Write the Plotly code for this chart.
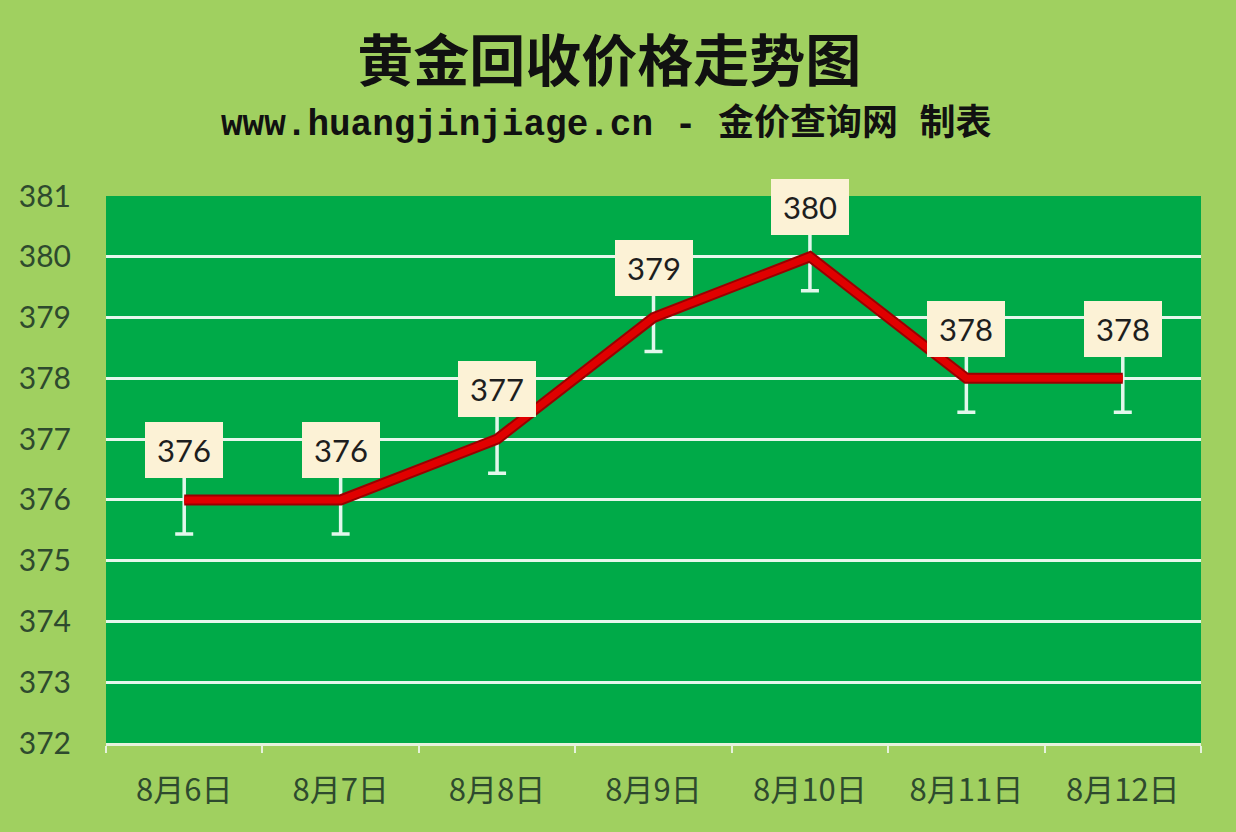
import plotly.graph_objects as go

categories = ["8月6日", "8月7日", "8月8日", "8月9日", "8月10日", "8月11日", "8月12日"]
prices = [376, 376, 377, 379, 380, 378, 378]
y_ticks = [372, 373, 374, 375, 376, 377, 378, 379, 380, 381]
err_size = 0.56
label_offset = 0.82

title_text = "黄金回收价格走势图"
subtitle_text = "www.huangjinjiage.cn - 金价查询网 制表"

fig = go.Figure()

# Error bars (white whiskers)
fig.add_trace(go.Scatter(
    x=categories, y=prices, mode="markers",
    marker=dict(size=1, color="rgba(0,0,0,0)"),
    error_y=dict(type="constant", value=err_size, color="#E2F7EC", thickness=3.5, width=9),
    hoverinfo="skip", showlegend=False,
))
# Dark outline of the line
fig.add_trace(go.Scatter(
    x=categories, y=prices, mode="lines",
    line=dict(color="#9A0000", width=11),
    hoverinfo="skip", showlegend=False,
))
# Red line
fig.add_trace(go.Scatter(
    x=categories, y=prices, mode="lines",
    line=dict(color="#E00000", width=7),
    showlegend=False,
))

for c, p in zip(categories, prices):
    fig.add_annotation(
        x=c, y=p + label_offset, xref="x", yref="y",
        text=str(p), showarrow=False,
        font=dict(family="Lato, Open Sans, sans-serif", size=31, color="#1E1E1E"),
        bgcolor="#FCF2D6", width=66, height=44, borderpad=6,
        borderwidth=0,
    )

fig.update_layout(
    width=1236, height=832,
    paper_bgcolor="#A0D060",
    plot_bgcolor="#00AA48",
    margin=dict(l=106, r=35, t=196, b=89),
    title=dict(
        text=f"<b>{title_text}</b>",
        x=0.493, xanchor="center", y=0.926, yanchor="middle",
        font=dict(family="Noto Sans CJK SC", size=56, color="#111111"),
    ),
    showlegend=False,
)
fig.add_annotation(
    text=f"<b>{subtitle_text}</b>", xref="paper", yref="paper",
    x=0.4575, xanchor="center", y=1.131, yanchor="middle", showarrow=False,
    font=dict(family="Liberation Mono, Noto Sans CJK SC", size=36, color="#111111"),
)

fig.update_xaxes(
    type="category", range=[-0.5, 6.5],
    showgrid=False, zeroline=False,
    showline=True, linecolor="#E6F2DC", linewidth=3,
    ticks="outside", tickson="boundaries", ticklen=7, tickwidth=2, tickcolor="#E6F2DC",
    tickfont=dict(family="Noto Sans CJK SC", size=31, color="#2E4A2E"),
    ticklabelstandoff=18,
)
fig.update_yaxes(
    range=[372, 381], tickvals=y_ticks,
    showgrid=True, gridcolor="#E6F7EC", gridwidth=3,
    zeroline=False, showline=False,
    ticks="", ticklabelstandoff=34,
    tickfont=dict(family="Lato, Open Sans, sans-serif", size=30, color="#2E4A2E"),
)

fig.write_html(
    "out.html",
    config={"displayModeBar": False},
    post_script="document.body.style.margin='0';document.body.style.overflow='hidden';",
)
